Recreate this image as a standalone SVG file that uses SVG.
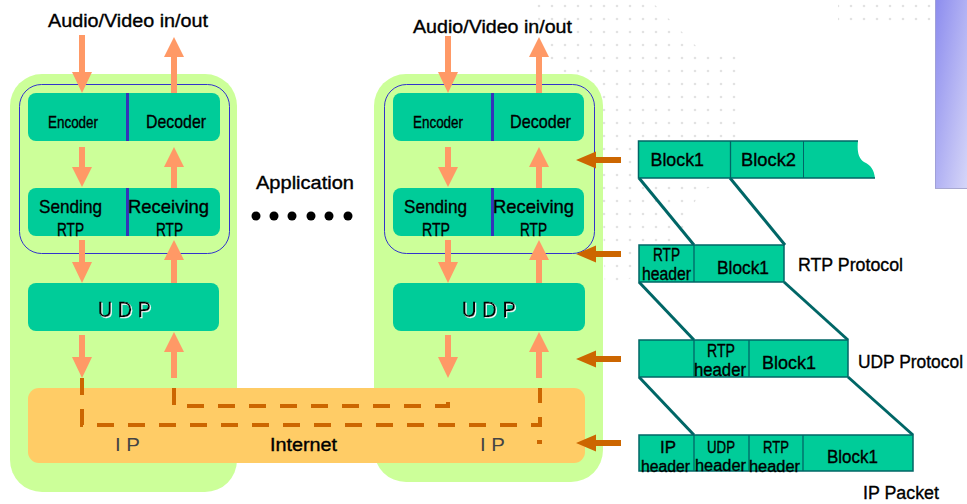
<svg xmlns="http://www.w3.org/2000/svg" width="967" height="504" viewBox="0 0 967 504">
<style>
.t{font-family:"Liberation Sans",Arial,sans-serif;font-size:18px;fill:#000;stroke:#000;stroke-width:0.35}
.g{fill:#444;stroke:none}
.panel{fill:#CCFF99}
.box{fill:#00CC99}
.inner{fill:none;stroke:#3333CC;stroke-width:1}
.div{stroke:#3333BB;stroke-width:3}
.arr{fill:#FF9966}
.barr{fill:#CC6600}
.dash{fill:none;stroke:#CC6600;stroke-width:4;stroke-dasharray:17 14}
.pk{fill:#00CC99;stroke:#006666;stroke-width:1.5}
.pd{stroke:#006666;stroke-width:1.3}
.sl{stroke:#006666;stroke-width:3}
.h1{font-size:17px}
.h2{font-size:16px}
</style>
<defs>
<pattern id="dots" width="13" height="13" patternUnits="userSpaceOnUse">
<circle cx="6" cy="6" r="1.3" fill="#E2E2E2"/>
</pattern>
<linearGradient id="pg" x1="0" y1="0" x2="1" y2="1">
<stop offset="0" stop-color="#8C8CEE"/>
<stop offset="1" stop-color="#D6D6F8"/>
</linearGradient>
<filter id="ws" x="-10%" y="-10%" width="130%" height="130%">
<feDropShadow dx="1" dy="1" stdDeviation="0" flood-color="#FFFFFF"/>
</filter>
</defs>

<g id="background">
<polygon points="535,0 650,0 700,50 745,55 745,180 700,190 670,260 605,290 600,100 545,60" fill="url(#dots)"/>
<rect x="838" y="0" width="95" height="28" fill="url(#dots)"/>
<rect x="935" y="0" width="32" height="189" fill="url(#pg)"/>
<line x1="935.5" y1="0" x2="935.5" y2="189" stroke="#A0A0D8" stroke-width="1"/>
<line x1="935" y1="188.5" x2="967" y2="188.5" stroke="#A8A8D0" stroke-width="1"/>
</g>

<g id="host-left">
<rect class="panel" x="10" y="74" width="227" height="418" rx="32"/>
</g>
<g id="host-right">
<rect class="panel" x="374" y="74" width="229" height="408" rx="32"/>
</g>

<g id="internet">
<rect x="28" y="388" width="557" height="75" rx="11" fill="#FFCC66"/>
<text class="t" x="270" y="451" textLength="67" lengthAdjust="spacingAndGlyphs">Internet</text>
<text class="t g" x="115" y="451" textLength="25" lengthAdjust="spacingAndGlyphs">I P</text>
<text class="t g" x="480" y="451" textLength="25" lengthAdjust="spacingAndGlyphs">I P</text>
</g>

<g id="app-left">
<rect class="inner" x="19.5" y="84.5" width="210" height="169" rx="22"/>
</g>
<g id="app-right">
<rect class="inner" x="384.5" y="84.5" width="210" height="169" rx="22"/>
</g>

<g id="codec-left">
<rect class="box" x="28" y="93" width="192" height="48" rx="8"/>
<line class="div" x1="127.5" y1="93" x2="127.5" y2="141"/>
<text class="t" x="48" y="128" textLength="50" lengthAdjust="spacingAndGlyphs" style="font-size:16px">Encoder</text>
<text class="t" x="146" y="128" textLength="60" lengthAdjust="spacingAndGlyphs" style="font-size:19px">Decoder</text>
</g>
<g id="rtp-left">
<rect class="box" x="28" y="188" width="192" height="48" rx="8"/>
<line class="div" x1="127.5" y1="188" x2="127.5" y2="236"/>
<text class="t" x="39" y="213" textLength="63" lengthAdjust="spacingAndGlyphs" style="font-size:19px">Sending</text>
<text class="t" x="57" y="236" textLength="27" lengthAdjust="spacingAndGlyphs" style="font-size:19px">RTP</text>
<text class="t" x="128" y="213" textLength="81" lengthAdjust="spacingAndGlyphs" style="font-size:19px">Receiving</text>
<text class="t" x="156" y="236" textLength="27" lengthAdjust="spacingAndGlyphs" style="font-size:19px">RTP</text>
</g>
<g id="udp-left">
<rect class="box" x="28" y="283" width="191" height="48" rx="8"/>
<text class="t" x="98" y="317" textLength="53" lengthAdjust="spacingAndGlyphs" style="font-size:22px" filter="url(#ws)">U D P</text>
</g>

<g id="codec-right">
<rect class="box" x="393" y="93" width="191" height="48" rx="8"/>
<line class="div" x1="492.5" y1="93" x2="492.5" y2="141"/>
<text class="t" x="413" y="128" textLength="50" lengthAdjust="spacingAndGlyphs" style="font-size:16px">Encoder</text>
<text class="t" x="510" y="128" textLength="61" lengthAdjust="spacingAndGlyphs" style="font-size:19px">Decoder</text>
</g>
<g id="rtp-right">
<rect class="box" x="393" y="188" width="191" height="48" rx="8"/>
<line class="div" x1="492.5" y1="188" x2="492.5" y2="236"/>
<text class="t" x="404" y="213" textLength="63" lengthAdjust="spacingAndGlyphs" style="font-size:19px">Sending</text>
<text class="t" x="422" y="236" textLength="28" lengthAdjust="spacingAndGlyphs" style="font-size:19px">RTP</text>
<text class="t" x="493" y="213" textLength="81" lengthAdjust="spacingAndGlyphs" style="font-size:19px">Receiving</text>
<text class="t" x="520" y="236" textLength="27" lengthAdjust="spacingAndGlyphs" style="font-size:19px">RTP</text>
</g>
<g id="udp-right">
<rect class="box" x="393" y="283" width="192" height="48" rx="8"/>
<text class="t" x="462" y="317" textLength="54" lengthAdjust="spacingAndGlyphs" style="font-size:22px" filter="url(#ws)">U D P</text>
</g>

<g id="labels">
<text class="t" x="48" y="27" textLength="160" lengthAdjust="spacingAndGlyphs">Audio/Video in/out</text>
<text class="t" x="413" y="33" textLength="159" lengthAdjust="spacingAndGlyphs">Audio/Video in/out</text>
<text class="t" x="256" y="189" textLength="98" lengthAdjust="spacingAndGlyphs">Application</text>
<g fill="#000">
<circle cx="256" cy="216" r="4.5"/><circle cx="274" cy="216" r="4.5"/><circle cx="292" cy="216" r="4.5"/>
<circle cx="311" cy="216" r="4.5"/><circle cx="329" cy="216" r="4.5"/><circle cx="348" cy="216" r="4.5"/>
</g>
</g>

<g id="connectors">
<polygon class="arr" points="79,35 85,35 85,72 92,72 82,93 72,72 79,72"/>
<polygon class="arr" points="171,93 177,93 177,57 184,57 174,37 164,57 171,57"/>
<polygon class="arr" points="79,147 85,147 85,167 92,167 82,187 72,167 79,167"/>
<polygon class="arr" points="171,188 177,188 177,167 184,167 174,147 164,167 171,167"/>
<polygon class="arr" points="79,240 85,240 85,262 92,262 82,283 72,262 79,262"/>
<polygon class="arr" points="171,283 177,283 177,260 184,260 174,240 164,260 171,260"/>
<polygon class="arr" points="79,335 85,335 85,357 92,357 82,378 72,357 79,357"/>
<polygon class="arr" points="171,378 177,378 177,352 184,352 174,332 164,352 171,352"/>
<polygon class="arr" points="445,36 451,36 451,72 458,72 448,93 438,72 445,72"/>
<polygon class="arr" points="536,93 542,93 542,57 549,57 539,37 529,57 536,57"/>
<polygon class="arr" points="445,147 451,147 451,167 458,167 448,187 438,167 445,167"/>
<polygon class="arr" points="536,188 542,188 542,167 549,167 539,147 529,167 536,167"/>
<polygon class="arr" points="445,240 451,240 451,262 458,262 448,283 438,262 445,262"/>
<polygon class="arr" points="536,283 542,283 542,260 549,260 539,240 529,260 536,260"/>
<polygon class="arr" points="445,335 451,335 451,357 458,357 448,378 438,357 445,357"/>
<polygon class="arr" points="536,378 542,378 542,352 549,352 539,332 529,352 536,352"/>
<path class="dash" d="M82,378 V425 H540 V388"/>
<path class="dash" d="M174,388 V406 H448 V388"/>
<rect x="537" y="440" width="5" height="4" fill="#CC6600"/>
<polygon class="barr" points="621,157 596,157 596,151.5 576,160 596,168.5 596,163 621,163"/>
<polygon class="barr" points="621,251 596,251 596,245.5 576,254 596,262.5 596,257 621,257"/>
<polygon class="barr" points="621,356 596,356 596,350.5 576,359 596,367.5 596,362 621,362"/>
<polygon class="barr" points="621,440 596,440 596,434.5 576,443 596,451.5 596,446 621,446"/>
<line class="sl" x1="639" y1="178" x2="694" y2="245"/>
<line class="sl" x1="730" y1="178" x2="785" y2="245"/>
<line class="sl" x1="639" y1="282" x2="694" y2="340"/>
<line class="sl" x1="784" y1="282" x2="848" y2="340"/>
<line class="sl" x1="639" y1="377" x2="694" y2="435"/>
<line class="sl" x1="848" y1="377" x2="913" y2="435"/>
</g>

<g id="packet-data">
<path d="M638.5,141 H858 C857,150 858,158 864,162 C871,165 874,170 875,178 H638.5 Z" fill="#00CC99"/>
<path d="M858,141 H638.5 V178 H875" fill="none" stroke="#006666" stroke-width="1.5"/>
<line class="pd" x1="730.5" y1="141" x2="730.5" y2="178"/>
<line x1="803.5" y1="141" x2="803.5" y2="178" stroke="#006666" stroke-width="1"/>
<text class="t" x="650.5" y="166" textLength="53.5" lengthAdjust="spacingAndGlyphs" style="font-size:19px">Block1</text>
<text class="t" x="741" y="166" textLength="55" lengthAdjust="spacingAndGlyphs" style="font-size:19px">Block2</text>
</g>

<g id="packet-rtp">
<rect class="pk" x="639" y="245" width="145" height="37"/>
<line class="pd" x1="694" y1="245" x2="694" y2="282"/>
<text class="t" x="653" y="261" textLength="27" lengthAdjust="spacingAndGlyphs">RTP</text>
<text class="t" x="642" y="280" textLength="49" lengthAdjust="spacingAndGlyphs">header</text>
<text class="t" x="717" y="274" textLength="52" lengthAdjust="spacingAndGlyphs" style="font-size:19px">Block1</text>
<text class="t" x="798" y="271" textLength="105" lengthAdjust="spacingAndGlyphs">RTP Protocol</text>
</g>

<g id="packet-udp">
<rect class="pk" x="639" y="340" width="209" height="37"/>
<line class="pd" x1="694" y1="340" x2="694" y2="377"/>
<line class="pd" x1="749" y1="340" x2="749" y2="377"/>
<text class="t" x="707" y="357" textLength="28" lengthAdjust="spacingAndGlyphs">RTP</text>
<text class="t" x="694" y="376" textLength="52" lengthAdjust="spacingAndGlyphs">header</text>
<text class="t" x="762" y="369" textLength="54" lengthAdjust="spacingAndGlyphs" style="font-size:19px">Block1</text>
<text class="t" x="858" y="368" textLength="105" lengthAdjust="spacingAndGlyphs">UDP Protocol</text>
</g>

<g id="packet-ip">
<rect class="pk" x="639" y="435" width="274" height="36"/>
<line class="pd" x1="694" y1="435" x2="694" y2="471"/>
<line class="pd" x1="749" y1="435" x2="749" y2="471"/>
<line class="pd" x1="803" y1="435" x2="803" y2="471"/>
<text class="t h1" x="660" y="453" textLength="16" lengthAdjust="spacingAndGlyphs">IP</text>
<text class="t h2" x="641" y="471.5" textLength="49" lengthAdjust="spacingAndGlyphs">header</text>
<text class="t h1" x="707" y="453" textLength="28" lengthAdjust="spacingAndGlyphs">UDP</text>
<text class="t h2" x="695" y="471" textLength="51" lengthAdjust="spacingAndGlyphs">header</text>
<text class="t h1" x="763" y="453" textLength="26" lengthAdjust="spacingAndGlyphs">RTP</text>
<text class="t h2" x="749" y="471.5" textLength="51" lengthAdjust="spacingAndGlyphs">header</text>
<text class="t" x="827" y="463" textLength="51" lengthAdjust="spacingAndGlyphs" style="font-size:19px">Block1</text>
<text class="t" x="863" y="499" textLength="76" lengthAdjust="spacingAndGlyphs">IP Packet</text>
</g>
</svg>
